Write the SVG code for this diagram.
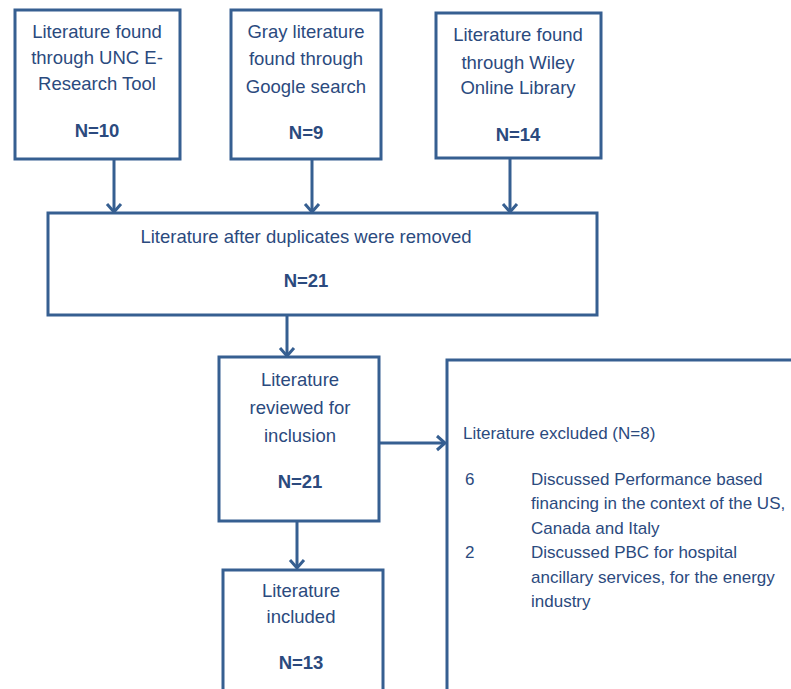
<svg xmlns="http://www.w3.org/2000/svg" width="791" height="689" viewBox="0 0 791 689">
  <style>
    .box { fill: #ffffff; stroke: #365F91; stroke-width: 3; }
    .edge { fill: none; stroke: #365F91; stroke-width: 3; }
    text { font-family: "Liberation Sans", Arial, sans-serif; font-size: 18.5px; fill: #2B4A7E; }
    .c { text-anchor: middle; }
    .n { font-weight: bold; }
    .small { font-size: 17px; }
  </style>
  <defs>
    <marker id="chev" markerUnits="userSpaceOnUse" markerWidth="20" markerHeight="20" refX="10" refY="10" orient="auto">
      <path d="M2,3 L10,10 L2,17" fill="none" stroke="#365F91" stroke-width="3"/>
    </marker>
  </defs>
  <rect width="791" height="689" fill="#ffffff"/>

  <!-- connectors -->
  <g id="connectors">
    <line class="edge" x1="114" y1="159" x2="114" y2="212" marker-end="url(#chev)"/>
    <line class="edge" x1="312" y1="159" x2="312" y2="212" marker-end="url(#chev)"/>
    <line class="edge" x1="510" y1="158" x2="510" y2="212" marker-end="url(#chev)"/>
    <line class="edge" x1="287" y1="315" x2="287" y2="356" marker-end="url(#chev)"/>
    <line class="edge" x1="379" y1="443" x2="445" y2="443" marker-end="url(#chev)"/>
    <line class="edge" x1="297" y1="521" x2="297" y2="568" marker-end="url(#chev)"/>
  </g>

  <g id="unc">
    <rect class="box" x="15" y="10" width="165" height="149"/>
    <text class="c" x="97" y="38">Literature found</text>
    <text class="c" x="97" y="64">through UNC E-</text>
    <text class="c" x="97" y="90">Research Tool</text>
    <text class="c n" x="97" y="137">N=10</text>
  </g>

  <g id="google">
    <rect class="box" x="231" y="10" width="150" height="149"/>
    <text class="c" x="306" y="38">Gray literature</text>
    <text class="c" x="306" y="65">found through</text>
    <text class="c" x="306" y="93">Google search</text>
    <text class="c n" x="306" y="139">N=9</text>
  </g>

  <g id="wiley">
    <rect class="box" x="436" y="13" width="165" height="145"/>
    <text class="c" x="518" y="41">Literature found</text>
    <text class="c" x="518" y="69">through Wiley</text>
    <text class="c" x="518" y="94">Online Library</text>
    <text class="c n" x="518" y="141">N=14</text>
  </g>

  <g id="deduplicated">
    <rect class="box" x="48" y="213" width="549" height="102"/>
    <text class="c" x="306" y="243">Literature after duplicates were removed</text>
    <text class="c n" x="306" y="287">N=21</text>
  </g>

  <g id="reviewed">
    <rect class="box" x="219" y="357" width="160" height="164"/>
    <text class="c" x="300" y="386">Literature</text>
    <text class="c" x="300" y="414">reviewed for</text>
    <text class="c" x="300" y="442">inclusion</text>
    <text class="c n" x="300" y="488">N=21</text>
  </g>

  <g id="excluded">
    <rect class="box" x="447" y="360" width="360" height="350"/>
    <text class="small" x="463" y="439">Literature excluded (N=8)</text>
    <text class="small" x="465" y="485">6</text>
    <text class="small" x="531" y="485">Discussed Performance based</text>
    <text class="small" x="531" y="509">financing in the context of the US,</text>
    <text class="small" x="531" y="534">Canada and Italy</text>
    <text class="small" x="465" y="558">2</text>
    <text class="small" x="531" y="558">Discussed PBC for hospital</text>
    <text class="small" x="531" y="583">ancillary services, for the energy</text>
    <text class="small" x="531" y="607">industry</text>
  </g>

  <g id="included">
    <rect class="box" x="223" y="570" width="160" height="140"/>
    <text class="c" x="301" y="597">Literature</text>
    <text class="c" x="301" y="623">included</text>
    <text class="c n" x="301" y="669">N=13</text>
  </g>
</svg>
